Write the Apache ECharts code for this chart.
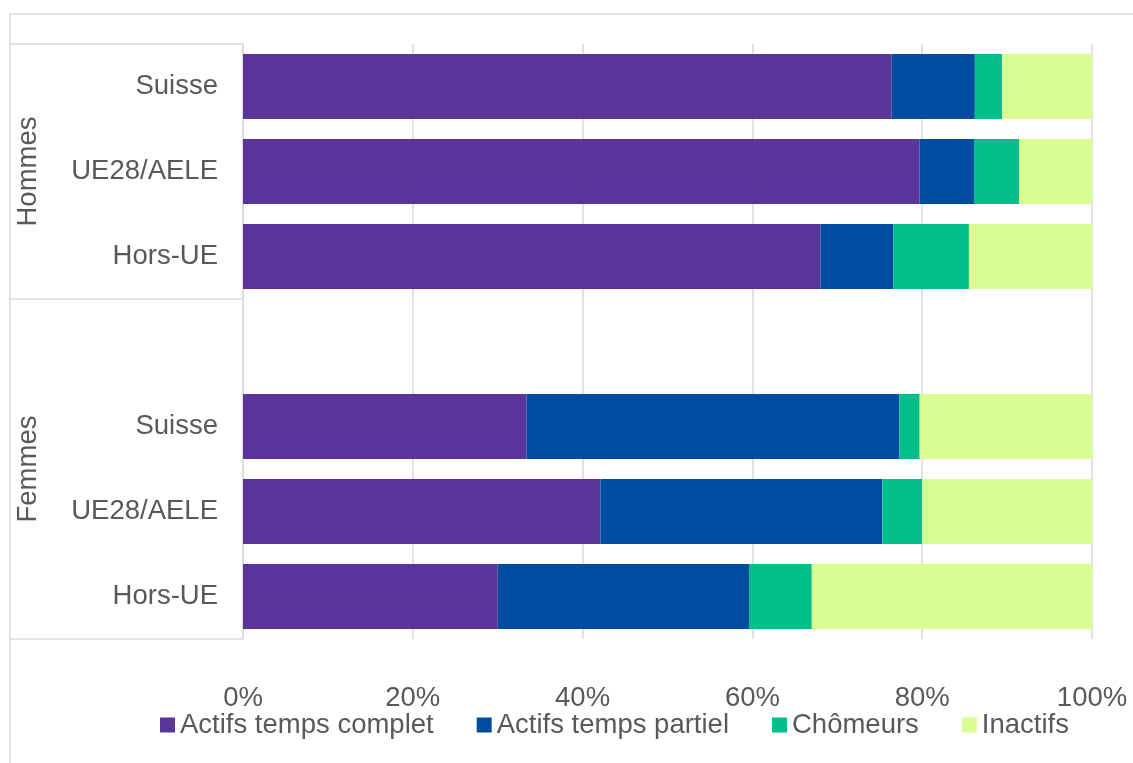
<!DOCTYPE html>
<html>
<head>
<meta charset="utf-8">
<script src="https://cdn.jsdelivr.net/npm/echarts@6/dist/echarts.min.js"></script>
<style>
html,body{margin:0;padding:0;background:#fff;}
#chart{width:1133px;height:763px;}
</style>
</head>
<body>
<div id="chart"></div>
<script>
// Category slots (top to bottom); 'gap' is the empty row between the groups
const categoryKeys = ['H-Suisse', 'H-UE', 'H-Hors', 'gap', 'F-Suisse', 'F-UE', 'F-Hors'];
const categoryLabels = ['Suisse', 'UE28/AELE', 'Hors-UE', '', 'Suisse', 'UE28/AELE', 'Hors-UE'];
const groupNames = ['Hommes', 'Femmes'];
const groupSpans = [[0, 3], [3, 7]];
const xTickValues = [0, 20, 40, 60, 80, 100];

const seriesNames = ['Actifs temps complet', 'Actifs temps partiel', 'Chômeurs', 'Inactifs'];
const actifsComplet = [76.4, 79.7, 68.0, null, 33.4, 42.1, 30.0];
const actifsPartiel = [9.8, 6.4, 8.6, null, 43.9, 33.2, 29.6];
const chomeurs      = [3.2, 5.3, 8.9, null, 2.4, 4.7, 7.4];
const inactifs      = [10.6, 8.6, 14.5, null, 20.3, 20.0, 33.0];

const colors = ['#5B3599', '#034DA1', '#04BE8B', '#DBFE92'];
const FONT = "'Liberation Sans', Arial, sans-serif";
const FS = 27.5;
const TXT = '#595959';

const seriesData = [actifsComplet, actifsPartiel, chomeurs, inactifs];

const chart = echarts.init(document.getElementById('chart'), null, {renderer: 'canvas'});

const option = {
  animation: false,
  backgroundColor: '#ffffff',
  color: colors,
  textStyle: {fontFamily: FONT},
  grid: {left: 243, right: 41, top: 44, bottom: 124, containLabel: false},
  legend: {
    left: 155, top: 706,
    itemWidth: 15, itemHeight: 15, itemGap: 43,
    icon: 'rect',
    textStyle: {fontFamily: FONT, fontSize: FS, color: TXT},
    data: seriesNames
  },
  xAxis: {
    type: 'value', min: 0, max: 100, interval: 20,
    axisLine: {show: false},
    axisTick: {show: false},
    splitLine: {show: true, lineStyle: {color: '#d9d9d9', width: 1.5}},
    axisLabel: {
      fontFamily: FONT, fontSize: FS, color: TXT, margin: 45,
      formatter: v => xTickValues.indexOf(v) >= 0 ? v + '%' : ''
    }
  },
  yAxis: {
    type: 'category', inverse: true, data: categoryKeys,
    axisLine: {show: true, lineStyle: {color: '#d9d9d9', width: 1.5}},
    axisTick: {show: false},
    axisLabel: {
      fontFamily: FONT, fontSize: FS, color: TXT, margin: 25,
      formatter: (v, i) => categoryLabels[i]
    }
  },
  series: seriesNames.map((name, k) => ({
    name: name, type: 'bar', stack: 'total',
    barCategoryGap: '23.5%',
    data: seriesData[k],
    itemStyle: {color: colors[k]}
  }))
};
chart.setOption(option);

function drawDecor() {
  const yA = chart.convertToPixel({yAxisIndex: 0}, 0);
  const yB = chart.convertToPixel({yAxisIndex: 0}, 1);
  const band = yB - yA;
  const top = yA - band / 2;
  const xAxis0 = chart.convertToPixel({xAxisIndex: 0}, 0);
  const els = [];
  els.push({
    type: 'rect', silent: true,
    shape: {x: 10, y: 14, width: 1400, height: 1000},
    style: {fill: 'none', stroke: '#d9d9d9', lineWidth: 1.5}
  });
  const bounds = [0];
  groupSpans.forEach(s => bounds.push(s[1]));
  bounds.forEach(b => {
    const y = top + b * band;
    els.push({
      type: 'line', silent: true,
      shape: {x1: 10, y1: y, x2: xAxis0, y2: y},
      style: {stroke: '#d9d9d9', lineWidth: 1.5}
    });
  });
  groupNames.forEach((g, i) => {
    const s = groupSpans[i];
    els.push({
      type: 'text', silent: true,
      x: 28, y: top + (s[0] + s[1]) / 2 * band,
      rotation: Math.PI / 2,
      style: {text: g, fill: TXT, font: FS + 'px ' + FONT, align: 'center', verticalAlign: 'middle'}
    });
  });
  chart.setOption({graphic: els});
}
drawDecor();
</script>
</body>
</html>
